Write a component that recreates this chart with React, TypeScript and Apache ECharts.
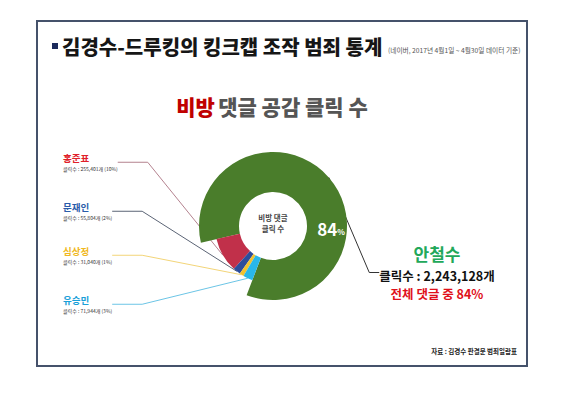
import React, { useEffect, useRef } from "react";
import * as echarts from "echarts";

const candidates = ["홍준표", "문재인", "심상정", "유승민", "안철수"];
const clicks = [255401, 55804, 31040, 71944, 2243128];

const sliceColors = ["#c1304a", "#2c4d9c", "#f2c230", "#29b7ea", "#4a7d2b"];
const nameColors = ["#e0202a", "#2a5caa", "#f0b820", "#1aa0d8", "#22a85a"];
const lineColors = ["#b4828f", "#5b6475", "#f3d578", "#6cc5e6", "#333333"];
const leftLabelY = [162, 211, 255, 304];

const FONT = '"Noto Sans CJK KR", "Noto Sans", sans-serif';

export default function App() {
  const ref = useRef<HTMLDivElement>(null);
  useEffect(() => {
    if (!ref.current) return;
    const chart = echarts.init(ref.current, null, { renderer: "svg" });
    const total = clicks.reduce((a, b) => a + b, 0);
    const pct = clicks.map((v) => Math.round((v / total) * 100));
    const mainIdx = 4;
    const cx = 273;
    const cy = 226;

    const dataOuter = candidates.map((n, i) => ({
      name: n,
      value: clicks[i],
      itemStyle: { color: i === mainIdx ? sliceColors[i] : "rgba(0,0,0,0)" },
      label: { show: i === mainIdx },
      labelLine: { show: i === mainIdx, lineStyle: { color: lineColors[i], width: 1 } },
    }));
    const dataInner = candidates.map((n, i) => ({
      name: n,
      value: clicks[i],
      itemStyle: { color: i === mainIdx ? "rgba(0,0,0,0)" : sliceColors[i] },
      label: { show: i !== mainIdx },
      labelLine: { show: i !== mainIdx, lineStyle: { color: lineColors[i], width: 1 } },
    }));

    const option: any = {
      animation: false,
      backgroundColor: "#ffffff",
      textStyle: { fontFamily: FONT },
      graphic: [
        {
          type: "rect",
          shape: { x: 37, y: 21, width: 490, height: 345 },
          style: { fill: "#ffffff", stroke: "#45526b", lineWidth: 2 },
          z: -10,
        },
        {
          type: "rect",
          shape: { x: 52, y: 43, width: 6, height: 6 },
          style: { fill: "#1b2a5c" },
        },
        {
          type: "text",
          x: 62,
          y: 46,
          style: {
            text: "김경수-드루킹의 킹크캡 조작 범죄 통계",
            fontFamily: FONT,
            fontSize: 20,
            fontWeight: 900,
            fill: "#161616",
            verticalAlign: "middle",
          },
        },
        {
          type: "text",
          x: 388,
          y: 50,
          style: {
            text: "(네이버, 2017년 4월1일 ~ 4월30일 데이터 기준)",
            fontFamily: FONT,
            fontSize: 6.7,
            fill: "#555555",
            verticalAlign: "middle",
          },
        },
        {
          type: "text",
          x: 272,
          y: 106,
          style: {
            text: "{r|비방} {g|댓글 공감 클릭 수}",
            align: "center",
            verticalAlign: "middle",
            rich: {
              r: { fontFamily: FONT, fontSize: 21, fontWeight: 900, fill: "#c00000", color: "#c00000" },
              g: { fontFamily: FONT, fontSize: 21, fontWeight: 900, fill: "#555555", color: "#555555" },
            },
          },
        },
        {
          type: "text",
          x: cx,
          y: cy - 3,
          style: {
            text: "비방 댓글\n클릭 수",
            fontFamily: FONT,
            fontSize: 7.5,
            fontWeight: "bold",
            fill: "#444444",
            align: "center",
            verticalAlign: "middle",
            lineHeight: 11,
          },
          z: 10,
        },
        {
          type: "text",
          x: 331,
          y: 228,
          style: {
            text: "{a|" + pct[mainIdx] + "}{b|%}",
            align: "center",
            verticalAlign: "middle",
            rich: {
              a: { fontFamily: FONT, fontSize: 17, fontWeight: "bold", color: "#ffffff", fill: "#ffffff" },
              b: { fontFamily: FONT, fontSize: 8, fontWeight: "bold", color: "#ffffff", fill: "#ffffff", padding: [6, 0, 0, 0] },
            },
          },
          z: 10,
        },
        {
          type: "text",
          x: 517,
          y: 351,
          style: {
            text: "자료 : 김경수 판결문 범죄일람표",
            fontFamily: FONT,
            fontSize: 6.5,
            fontWeight: "bold",
            fill: "#222222",
            align: "right",
            verticalAlign: "middle",
          },
        },
      ],
      series: [
        {
          type: "pie",
          center: [cx, cy],
          radius: [34, 74],
          startAngle: 193,
          clockwise: false,
          silent: true,
          data: dataOuter,
          label: {
            position: "outside",
            formatter: (p: any) =>
              "{n|" + p.name + "}\n{s|클릭수 : " + clicks[p.dataIndex].toLocaleString("en-US") + "개}\n{r|전체 댓글 중 " + pct[p.dataIndex] + "%}",
            rich: {
              n: { fontFamily: FONT, fontSize: 17, fontWeight: "bold", color: nameColors[4], lineHeight: 25, align: "center" },
              s: { fontFamily: FONT, fontSize: 12.5, fontWeight: "bold", color: "#111111", lineHeight: 18.5, align: "center" },
              r: { fontFamily: FONT, fontSize: 12.5, fontWeight: "bold", color: "#e0101a", lineHeight: 18.5, align: "center" },
            },
          },
          labelLine: { length: 20, length2: 10 },
          labelLayout: () => ({ x: 437, y: 272, align: "center", verticalAlign: "middle" }),
        },
        {
          type: "pie",
          center: [cx, cy],
          radius: [34, 58],
          startAngle: 193,
          clockwise: false,
          silent: true,
          data: dataInner,
          label: {
            position: "outside",
            formatter: (p: any) =>
              "{n" + p.dataIndex + "|" + p.name + "}\n{s|클릭수 : " + clicks[p.dataIndex].toLocaleString("en-US") + "개 (" + pct[p.dataIndex] + "%)}",
            rich: {
              n0: { fontFamily: FONT, fontSize: 9.5, fontWeight: "bold", color: nameColors[0], lineHeight: 13 },
              n1: { fontFamily: FONT, fontSize: 9.5, fontWeight: "bold", color: nameColors[1], lineHeight: 13 },
              n2: { fontFamily: FONT, fontSize: 9.5, fontWeight: "bold", color: nameColors[2], lineHeight: 13 },
              n3: { fontFamily: FONT, fontSize: 9.5, fontWeight: "bold", color: nameColors[3], lineHeight: 13 },
              s: { fontFamily: FONT, fontSize: 5, color: "#333333", lineHeight: 7.5 },
            },
          },
          labelLine: { length: 15, length2: 30 },
          labelLayout: (params: any) => ({
            x: 63,
            y: leftLabelY[params.dataIndex] ?? 0,
            align: "left",
            verticalAlign: "middle",
          }),
        },
      ],
    };
    chart.setOption(option);
    return () => chart.dispose();
  }, []);
  return (
    <div
      ref={ref}
      style={{ position: "fixed", left: 0, top: 0, width: 576, height: 395, background: "#fff" }}
    />
  );
}
